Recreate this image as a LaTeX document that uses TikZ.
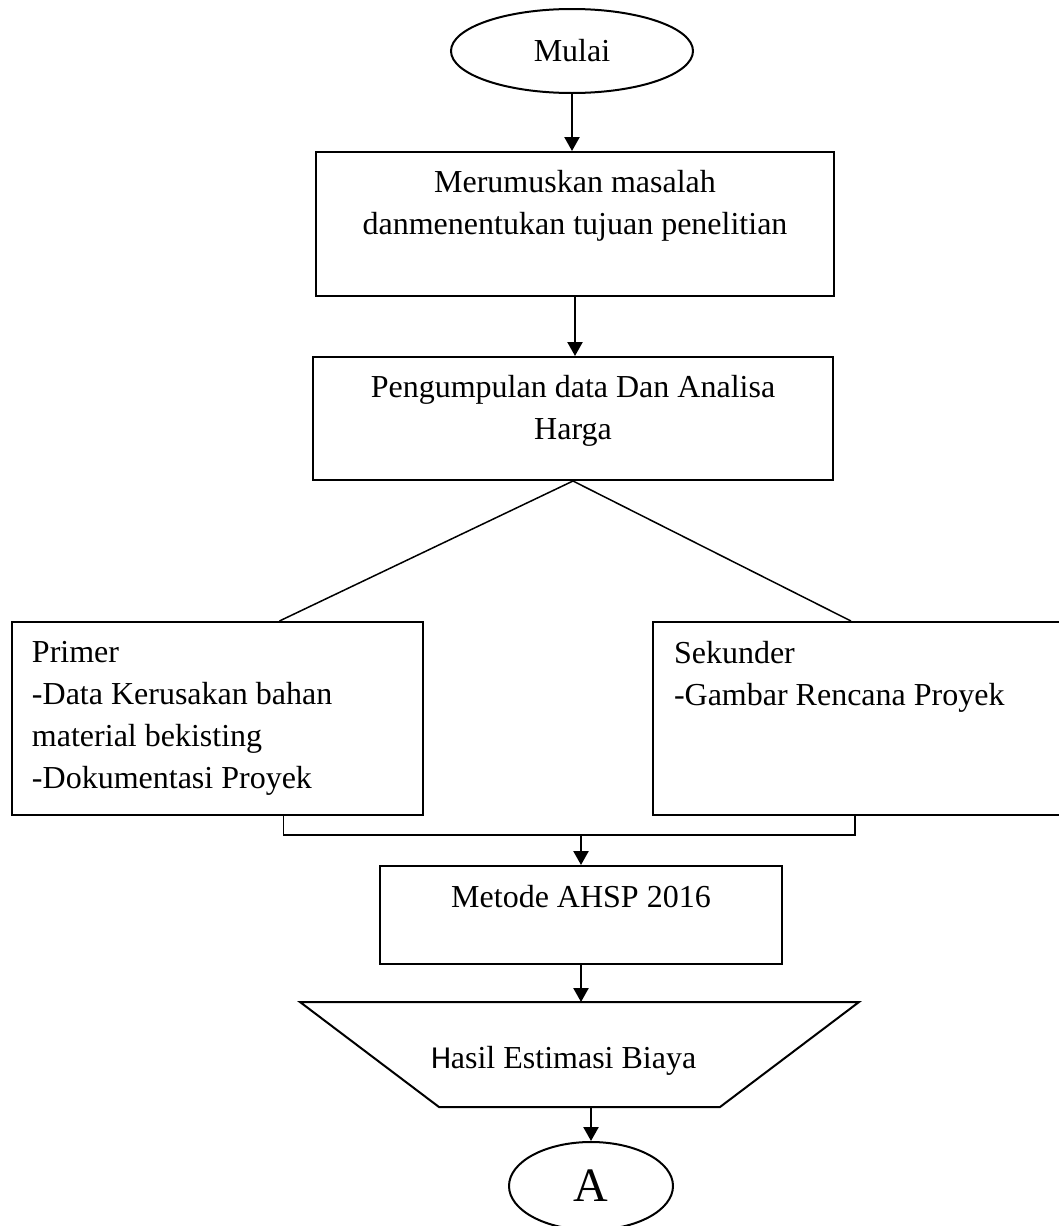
\documentclass[tikz,border=0pt]{standalone}
\usepackage{fontspec}
\setmainfont{Liberation Serif}
\newfontfamily\calibrifont{Carlito}
\usetikzlibrary{%
  arrows.meta,%
  shapes.geometric,% ellipse
  positioning,%
  calc%
}

\begin{document}
\begin{tikzpicture}
  [x=0.5pt, y=-0.5pt, font=\fontsize{16}{21}\selectfont, line width=1pt,
   >={Triangle[width=7.5pt,length=7pt]},
   box/.style={draw, inner sep=0pt},
   txt/.style={inner sep=0pt, align=center},
   txtl/.style={inner sep=0pt, align=left, anchor=north west},
   arr/.style={->, line width=1.2pt},
   thin line/.style={line width=0.75pt}]

\useasboundingbox (0,0) rectangle (1059,1226);

% start
\node[box, ellipse, minimum width=121pt, minimum height=42pt] (mulai) at (572,51) {Mulai};

% boxes
\node[box, minimum width=259pt, minimum height=72pt] (rumus) at (575,224) {};
\node[txt, anchor=north] (rumustxt) at ([yshift=-9pt]rumus.north) {Merumuskan masalah\\danmenentukan tujuan penelitian};

\node[box, minimum width=260pt, minimum height=61.5pt] (kumpul) at (573,418.5) {};
\node[txt, anchor=north] (kumpultxt) at ([yshift=-9pt]kumpul.north) {Pengumpulan data Dan Analisa\\Harga};

\node[box, minimum width=205.5pt, minimum height=96.5pt] (primer) at (217.5,718.5) {};
\node[txtl] (primertxt) at ([xshift=10pt,yshift=-9.5pt]primer.north west) {Primer\\-Data Kerusakan bahan\\material bekisting\\-Dokumentasi Proyek};

\node[box, minimum width=204.5pt, minimum height=96.5pt] (sekunder) at (857.5,718.5) {};
\node[txtl] (sekundertxt) at ([xshift=10.5pt,yshift=-9.5pt]sekunder.north west) {Sekunder\\-Gambar Rencana Proyek};

\node[box, minimum width=201pt, minimum height=49pt] (metode) at (581,915) {};
\node[txt, anchor=north] (metodetxt) at ([yshift=-9.5pt]metode.north) {Metode AHSP 2016};

% output
\coordinate (hasilatas) at (580,1002);
\coordinate (hasilbawah) at (580,1107);
\draw (hasilatas) ++(-280,0) -- ++(559,0) -- ++(-139,105) -- ++(-281,0) -- cycle;
\node[anchor=base west, inner sep=0pt] (hasiltxt) at (430,1068) {{\calibrifont H}asil Estimasi Biaya};

% connector
\node[box, ellipse, minimum width=82pt, minimum height=44pt, font=\fontsize{24}{28}\selectfont] (akhir) at (591,1186) {A};

% arrows and lines
\draw[arr] (mulai.south) -- (mulai.south |- rumus.north);
\draw[arr] (rumus.south) -- (rumus.south |- kumpul.north);

\draw[thin line] (kumpul.south) -- ($(primer.north west)!0.65!(primer.north east)$);
\draw[thin line] (kumpul.south) -- ($(sekunder.north west)!0.484!(sekunder.north east)$);

\coordinate (kiri) at ($(primer.south west)!0.66!(primer.south east)$);
\coordinate (kanan) at ($(sekunder.south west)!0.494!(sekunder.south east)$);
\draw[thin line] (kiri) -- ++(0,19) coordinate (kiribawah) -| (kanan);
\draw[arr] (kiribawah -| metode.north) -- (metode.north);

\draw[arr] (metode.south) -- (metode.south |- hasilatas);
\draw[arr] (akhir.north |- hasilbawah) -- (akhir.north);
\end{tikzpicture}
\end{document}
